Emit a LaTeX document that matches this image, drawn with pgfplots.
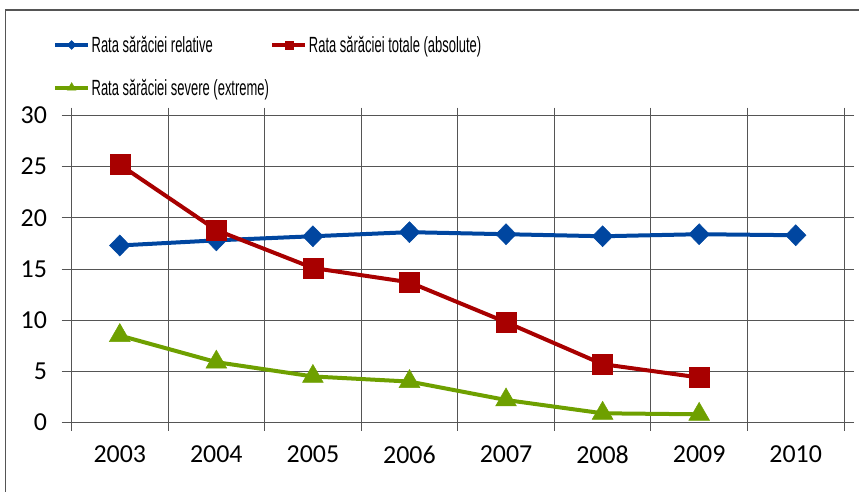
\documentclass[border=0pt]{standalone}
\usepackage{pgfplots}
\pgfplotsset{compat=1.18}
\usepackage{fontspec}
\setmainfont{Carlito}
\newfontfamily\legfont{Liberation Sans}
\newcommand{\legtxt}[1]{\scalebox{0.62}[1.05]{\legfont\fontsize{21}{21}\selectfont #1}}
\definecolor{cblue}{RGB}{0,70,160}
\definecolor{cred}{RGB}{168,0,0}
\definecolor{cgreen}{RGB}{110,160,0}
\definecolor{grd}{RGB}{85,85,85}
\begin{document}
\begin{tikzpicture}
\path[use as bounding box] (0bp,0bp) rectangle (859bp,-492bp);
\draw[grd, line width=1.5bp] (5.5bp,-492bp) -- (5.5bp,-10bp) -- (859bp,-10bp);
\begin{axis}[
 at={(71.5bp,-422.5bp)}, anchor=south west,
 scale only axis, width=772.5bp, height=307bp,
 xmin=-0.5, xmax=7.5, ymin=0, ymax=30,
 xtick={0,...,7}, xticklabels={2003,2004,2005,2006,2007,2008,2009,2010},
 minor xtick={-0.5,0.5,...,7.5},
 ytick={0,5,...,30},
 xminorgrids=true, ymajorgrids=true, xmajorgrids=false,
 grid style={grd, line width=1bp},
 minor grid style={grd, line width=1bp},
 axis line style={grd, line width=1bp},
 x axis line style={line width=2bp},
 tick align=outside, major tick length=10bp, minor tick length=8bp,
 tick style={grd, line width=1bp},
 major x tick style={draw=none},
 /pgf/number format/assume math mode=true,
 ticklabel style={font=\fontsize{26}{26}\selectfont},
 xticklabel style={yshift=-10bp},
 yticklabel style={xshift=-11bp},
 legend columns=2,
 legend cell align=left,
 legend style={draw=none, fill=none, at={(axis description cs:-0.024,1.264)}, anchor=north west,
   inner sep=0pt,
   nodes={inner sep=1.5bp}, row sep=22bp, column sep=0bp},
 legend image code/.code={\draw[mark repeat=2, mark phase=2, #1, /tikz/every mark/.append style={scale=0.42}] plot coordinates {(0bp,0bp) (16.5bp,0bp) (33bp,0bp)};},
]
\addplot[cblue, line width=4bp, mark=diamond*, mark size=10.5bp, mark options={xscale=1.3, line width=0.5bp}]
 coordinates {(0,17.3) (1,17.8) (2,18.2) (3,18.6) (4,18.4) (5,18.2) (6,18.4) (7,18.3)};
\addlegendentry{\legtxt{Rata sărăciei relative}}
\addplot[cred, line width=4bp, mark=square*, mark size=10bp, mark options={line width=0.5bp}]
 coordinates {(0,25.2) (1,18.8) (2,15.1) (3,13.7) (4,9.8) (5,5.7) (6,4.4)};
\addlegendentry{\legtxt{Rata sărăciei totale (absolute)}}
\addplot[cgreen, line width=4bp, mark=triangle*, mark size=12bp, mark options={line width=0.5bp}]
 coordinates {(0,8.5) (1,5.9) (2,4.5) (3,4.0) (4,2.2) (5,0.9) (6,0.8)};
\addlegendentry{\legtxt{Rata sărăciei severe (extreme)}}
\end{axis}
\end{tikzpicture}
\end{document}
